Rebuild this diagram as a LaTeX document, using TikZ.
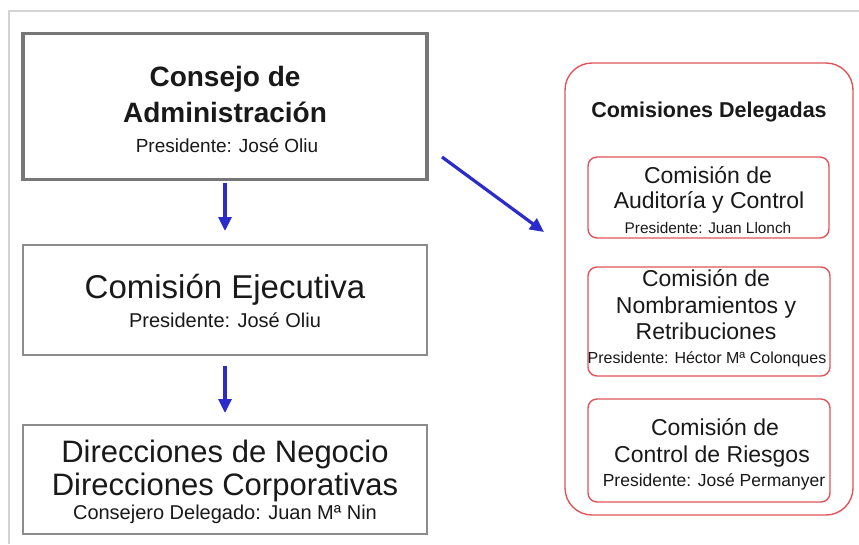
\documentclass[tikz,border=0pt]{standalone}
\usepackage{fontspec}
\setmainfont{Liberation Sans}
\usetikzlibrary{arrows.meta}
\definecolor{redline}{HTML}{E0555A}
\definecolor{blueline}{HTML}{2B2BCC}
\definecolor{frameline}{HTML}{D4D4D4}
\definecolor{grayline}{HTML}{8C8C8C}
\tikzset{
  graybox/.style={draw=grayline, line width=1.5pt},
  thickbox/.style={draw=grayline!85!black, line width=3.2pt},
  redbox/.style={draw=redline, line width=1.4pt, rounded corners=9pt},
  outerbox/.style={draw=redline, line width=1.4pt, rounded corners=27pt},
  flowarrow/.style={draw=blueline, line width=3.2pt, -{Triangle[length=14pt,width=13pt]}},
  txt/.style={inner sep=0pt, anchor=base, text=black!90}
}
\begin{document}
\begin{tikzpicture}[x=1pt,y=-1pt]
\useasboundingbox (0,0) rectangle (859,544);
\fill[white] (0,0) rectangle (859,544);
% frame
\draw[frameline, line width=1.6pt] (9,544) -- (9,11) -- (859,11);
% left boxes
\node[thickbox, minimum width=404pt, minimum height=146pt, inner sep=0pt] (consejo) at (225,106.5) {};
\node[graybox, minimum width=404pt, minimum height=110pt, inner sep=0pt] (ejecutiva) at (225,300) {};
\node[graybox, minimum width=404pt, minimum height=109pt, inner sep=0pt] (direcciones) at (225,479.5) {};
\node[txt, font=\fontsize{28}{30}\selectfont\bfseries] (t1a) at (225,86) {Consejo de};
\node[txt, font=\fontsize{28}{30}\selectfont\bfseries] (t1b) at (225,122) {Administración};
\node[txt, font=\fontsize{19}{21}\selectfont] (t1c) at (227,152) {Presidente: José Oliu};
\node[txt, font=\fontsize{33}{35}\selectfont] (t2a) at (225,298) {Comisión Ejecutiva};
\node[txt, font=\fontsize{20}{22}\selectfont] (t2b) at (225,327) {Presidente: José Oliu};
\node[txt, font=\fontsize{31}{33}\selectfont] (t3a) at (225,462) {Direcciones de Negocio};
\node[txt, font=\fontsize{31}{33}\selectfont] (t3b) at (225,495) {Direcciones Corporativas};
\node[txt, font=\fontsize{20}{22}\selectfont] (t3c) at (225,519) {Consejero Delegado: Juan Mª Nin};
% arrows
\coordinate (a1s) at (225,183);
\coordinate (a1e) at (225,231);
\coordinate (a2s) at (225,366);
\coordinate (a2e) at (225,413);
\coordinate (a3s) at (442,157);
\coordinate (a3e) at (544,232);
\draw[flowarrow] (a1s) -- (a1e);
\draw[flowarrow] (a2s) -- (a2e);
\draw[flowarrow] (a3s) -- (a3e);
% right group
\node[outerbox, minimum width=288pt, minimum height=452pt, inner sep=0pt] (delegadas) at (709,289) {};
\node[txt, font=\fontsize{21.5}{23}\selectfont\bfseries] (tdel) at (709,117) {Comisiones Delegadas};
\node[redbox, minimum width=241pt, minimum height=81pt, inner sep=0pt] (auditoria) at (708.5,197.5) {};
\node[redbox, minimum width=242pt, minimum height=109pt, inner sep=0pt] (nombramientos) at (709,321.5) {};
\node[redbox, minimum width=242pt, minimum height=103pt, inner sep=0pt] (riesgos) at (709,450.5) {};
\node[txt, font=\fontsize{23}{25}\selectfont] (ta1) at (708,183) {Comisión de};
\node[txt, font=\fontsize{23}{25}\selectfont] (ta2) at (709,208) {Auditoría y Control};
\node[txt, font=\fontsize{15.4}{17}\selectfont] (ta3) at (708,233) {Presidente: Juan Llonch};
\node[txt, font=\fontsize{23}{25}\selectfont] (tn1) at (706,286) {Comisión de};
\node[txt, font=\fontsize{23}{25}\selectfont] (tn2) at (706,313) {Nombramientos y};
\node[txt, font=\fontsize{23}{25}\selectfont] (tn3) at (706,339) {Retribuciones};
\node[txt, font=\fontsize{16}{18}\selectfont] (tn4) at (707,363) {Presidente: Héctor Mª Colonques};
\node[txt, font=\fontsize{23}{25}\selectfont] (tr1) at (715,435) {Comisión de};
\node[txt, font=\fontsize{23}{25}\selectfont] (tr2) at (712,462) {Control de Riesgos};
\node[txt, font=\fontsize{17.5}{19}\selectfont] (tr3) at (714,486) {Presidente: José Permanyer};
\end{tikzpicture}
\end{document}
